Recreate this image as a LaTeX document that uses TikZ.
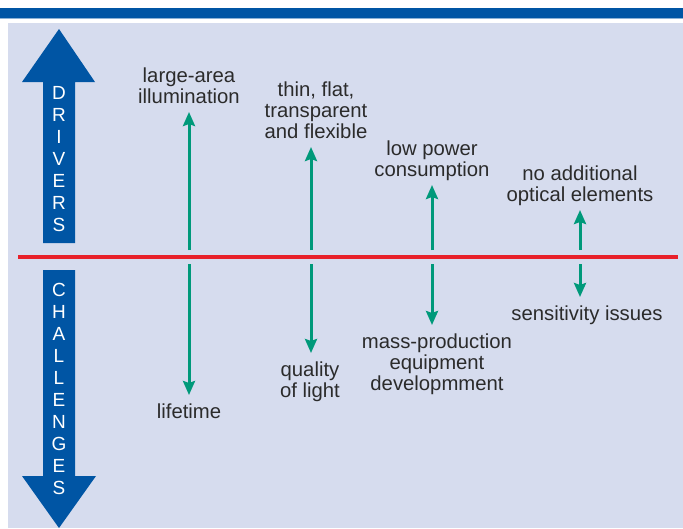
\documentclass[tikz,border=0pt]{standalone}
\usepackage{fontspec}
\setmainfont{Liberation Sans}
\usepackage{xcolor}
\usepackage{tikz}
\usetikzlibrary{arrows.meta}

\definecolor{topblue}{HTML}{0055A4}
\definecolor{panel}{HTML}{D6DCEE}
\definecolor{arrowgreen}{HTML}{00997A}
\definecolor{redline}{HTML}{E8202A}
\definecolor{textgray}{HTML}{2B2B2B}

\tikzset{
  lbl/.style={align=center,inner sep=0pt,text=textgray,
    font=\fontsize{20.3}{21}\selectfont,
    execute at begin node=\strut,execute at end node=\strut},
  drv/.style={lbl,anchor=south,outer sep=2pt},
  chl/.style={lbl,anchor=north,outer sep=9pt},
  letter/.style={text=white,inner sep=0pt,font=\fontsize{19}{21}\selectfont},
  grarrow/.style={arrowgreen,line width=3pt,-{Stealth[length=14pt,width=12pt,inset=2pt]}}
}

\begin{document}
\begin{tikzpicture}[x=1pt,y=-1pt]
      \useasboundingbox (0,0) rectangle (683,528);
      % frame
      \fill[topblue] (0,8) rectangle (683,18);
      \draw[topblue!45,line width=1pt] (0,18.5) -- (683,18.5);
      \fill[panel] (8,23) rectangle (683,528);
      % big arrows
      \fill[topblue] (43,243) -- (43,82) -- (22,82) -- (59,29) -- (95,82) -- (75,82) -- (75,243) -- cycle;
      \fill[topblue] (43,270) -- (75,270) -- (75,476) -- (96,476) -- (59,528) -- (22,476) -- (43,476) -- cycle;
      \foreach \ch [count=\i from 0] in {D,R,I,V,E,R,S}
        \node[letter] (dr\i) at (59,93+22*\i) {\ch};
      \foreach \ch [count=\i from 0] in {C,H,A,L,L,E,N,G,E,S}
        \node[letter] (ch\i) at (59,290+22*\i) {\ch};
      \draw[redline,line width=4pt] (18,257) -- (678,257);
      % drivers
      \node[drv] (l1) at (189,112) {large-area\\illumination};
      \node[drv] (l2) at (316,147) {thin, flat,\\transparent\\and flexible};
      \node[drv] (l3) at (432,185) {low power\\consumption};
      \node[drv] (l4) at (580,210) {no additional\\optical elements};
      % challenges
      \node[chl] (c1) at (189,395) {lifetime};
      \node[chl] (c2) at (310,353) {quality\\of light};
      \node[chl] (c3) at (437,325) {mass-production\\equipment\\developmment};
      \node[chl] (c4) at (587,297) {sensitivity issues};
      \foreach \x/\n in {189/1,311/2,432/3,580/4} {
        \coordinate (u\n) at (\x,250);
        \coordinate (d\n) at (\x,264);
        \draw[grarrow] (u\n) -- (u\n |- l\n.south);
        \draw[grarrow] (d\n) -- (d\n |- c\n.north);
      }
    \end{tikzpicture}
\end{document}
